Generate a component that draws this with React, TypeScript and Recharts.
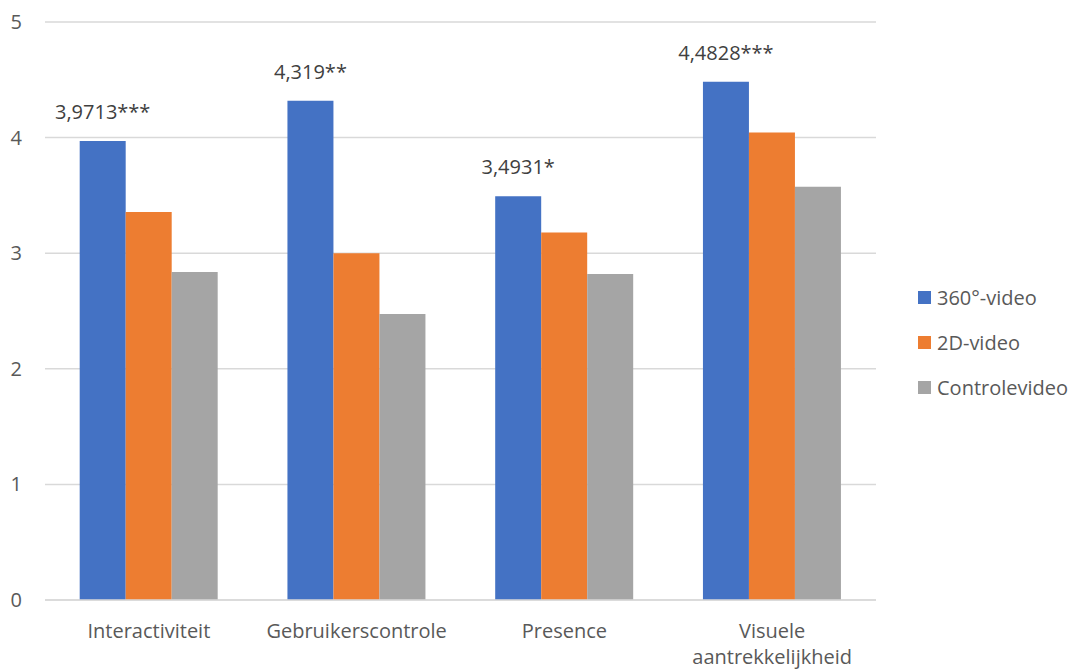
import React from "react";
import { BarChart, Bar, XAxis, YAxis, CartesianGrid, Legend, LabelList } from "recharts";

const categories = ["Interactiviteit", "Gebruikerscontrole", "Presence", "Visuele aantrekkelijkheid"];
const video360 = [3.9713, 4.319, 3.4931, 4.4828];
const video2D = [3.356, 3.0, 3.18, 4.045];
const controle = [2.837, 2.474, 2.82, 3.575];
const labels360 = ["3,9713***", "4,319**", "3,4931*", "4,4828***"];
const yTicks = [0, 1, 2, 3, 4, 5];

const series = [
  { key: "v360", name: "360°-video", color: "#4472C4" },
  { key: "v2d", name: "2D-video", color: "#ED7D31" },
  { key: "ctrl", name: "Controlevideo", color: "#A5A5A5" },
];

const data = categories.map((c, i) => ({
  name: c,
  v360: video360[i],
  v2d: video2D[i],
  ctrl: controle[i],
  label: labels360[i],
}));

const FONT = "'Open Sans', sans-serif";
const TXT = "#595959";
const FS = 20;

const XTick = (props: any) => {
  const { x, y, payload } = props;
  const words: string[] = payload.value === "Visuele aantrekkelijkheid" ? ["Visuele", "aantrekkelijkheid"] : [payload.value];
  return (
    <text x={x} y={y} textAnchor="middle" fill={TXT} fontFamily={FONT} fontSize={FS}>
      {words.map((w, i) => (
        <tspan key={i} x={x} dy={i === 0 ? 0 : 26}>{w}</tspan>
      ))}
    </text>
  );
};

const YTick = (props: any) => {
  const { x, y, payload } = props;
  return (
    <text x={x} y={y} dy={7} textAnchor="end" fill={TXT} fontFamily={FONT} fontSize={FS}>
      {payload.value}
    </text>
  );
};

const TopLabel = (props: any) => {
  const { x, y, width, value } = props;
  return (
    <text x={x + width / 2} y={y - 22} textAnchor="middle" fill="#404040" fontFamily={FONT} fontSize={FS}>
      {value}
    </text>
  );
};

const LegendContent = () => (
  <div style={{ fontFamily: FONT, fontSize: FS, color: TXT }}>
    {series.map((s) => (
      <div key={s.key} style={{ display: "flex", alignItems: "center", height: 45, whiteSpace: "nowrap" }}>
        <div style={{ width: 13, height: 13, background: s.color, marginRight: 6, flex: "none" }} />
        <span>{s.name}</span>
      </div>
    ))}
  </div>
);

export default function App() {
  return (
    <div style={{ position: "absolute", left: 0, top: 0, background: "#fff" }}>
      <BarChart
        width={1076}
        height={671}
        data={data}
        margin={{ top: 22, right: 40, bottom: 41, left: 0 }}
        barCategoryGap="16.7%"
        barGap={0}
      >
        <CartesianGrid vertical={false} stroke="#d9d9d9" strokeWidth={1.5} />
        <XAxis
          dataKey="name"
          axisLine={{ stroke: "#d9d9d9", strokeWidth: 1.5 }}
          tickLine={false}
          tick={<XTick />}
          tickMargin={32}
          interval={0}
        />
        <YAxis
          domain={[0, 5]}
          ticks={yTicks}
          width={45}
          axisLine={false}
          tickLine={false}
          tickSize={0}
          tickMargin={23}
          tick={<YTick />}
        />
        <Legend
          layout="vertical"
          align="right"
          verticalAlign="top"
          content={<LegendContent />}
          wrapperStyle={{ left: 918, top: 275, width: 160 }}
        />
        {series.map((s) => (
          <Bar key={s.key} dataKey={s.key} name={s.name} fill={s.color} isAnimationActive={false}>
            {s.key === "v360" ? <LabelList dataKey="label" content={<TopLabel />} /> : null}
          </Bar>
        ))}
      </BarChart>
    </div>
  );
}
